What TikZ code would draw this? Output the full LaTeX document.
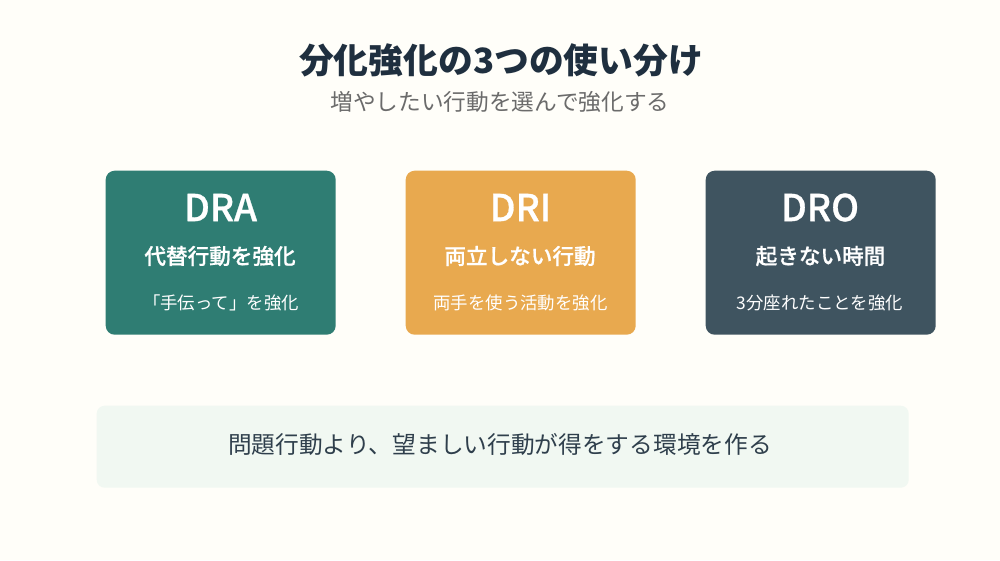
\documentclass[tikz,border=0pt]{standalone}
\usepackage{fontspec}
\setmainfont{Noto Sans CJK JP}
\newfontfamily\jpsemi[FakeBold=0.7]{Noto Sans CJK JP Medium}
\definecolor{bg}{HTML}{FFFEF9}
\definecolor{titlec}{HTML}{1F2F3F}
\definecolor{subc}{HTML}{6B6B6B}
\definecolor{teal}{HTML}{2F7D73}
\definecolor{amber}{HTML}{E8A94F}
\definecolor{slate}{HTML}{3F5460}
\definecolor{noteb}{HTML}{F1F8F2}
\definecolor{notet}{HTML}{2F3F4C}
\newcommand{\sized}[1]{\fontsize{#1}{#1}\selectfont}
\tikzset{
 x=1pt,y=-1pt,
 card/.style={rounded corners=9pt,minimum width=230pt,minimum height=164pt,inner sep=0pt,anchor=north west},
 head/.style={text=white,font=\jpsemi\sized{37},anchor=center},
 mid/.style={text=white,font=\jpsemi\sized{21.6},anchor=center},
 low/.style={text=white,font=\sized{17.4},anchor=center},
}
\begin{document}
\begin{tikzpicture}
\path[use as bounding box,fill=bg] (0,0) rectangle (1000,560);
\node[anchor=center,text=titlec,font=\bfseries\sized{34.8}] (title) at (501,60.5) {分化強化の3つの使い分け};
\node[anchor=center,text=subc,font=\sized{22.7}] (sub) at (500,102) {増やしたい行動を選んで強化する};
\node[card,fill=teal] (c1) at (105.5,170.5) {};
\node[card,fill=amber] (c2) at (405.5,170.5) {};
\node[card,fill=slate] (c3) at (705.5,170.5) {};
\node[head] (h1) at (220.5,207.5) {DRA};
\node[mid] (m1) at (220,256) {代替行動を強化};
\node[low] (l1) at (221,302.5) {「手伝って」を強化};
\node[head] (h2) at (520.5,207.5) {DRI};
\node[mid] (m2) at (520,256) {両立しない行動};
\node[low] (l2) at (520.5,302.5) {両手を使う活動を強化};
\node[head] (h3) at (820,207.5) {DRO};
\node[mid] (m3) at (820.5,256) {起きない時間};
\node[low] (l3) at (820,302.5) {3分座れたことを強化};
\node[rounded corners=8pt,fill=noteb,minimum width=812pt,minimum height=82pt,inner sep=0pt,anchor=north west] (n) at (96.5,405.5) {};
\node[anchor=center,text=notet,font=\sized{23.7}] (nt) at (500,444) {問題行動より、望ましい行動が得をする環境を作る};
\end{tikzpicture}
\end{document}
